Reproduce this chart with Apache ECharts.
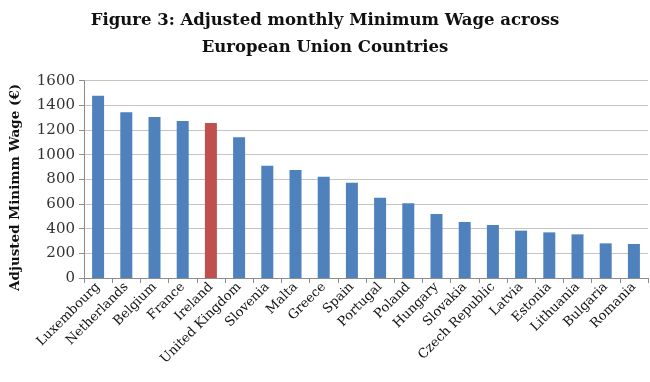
<!DOCTYPE html>
<html><head><meta charset="utf-8">
<script src="https://cdn.jsdelivr.net/npm/echarts@6/dist/echarts.min.js"></script>
<style>html,body{margin:0;padding:0;background:#fff}#c{width:650px;height:382px}</style>
</head><body><div id="c"></div>
<script>
const countries = ["Luxembourg","Netherlands","Belgium","France","Ireland","United Kingdom","Slovenia","Malta","Greece","Spain","Portugal","Poland","Hungary","Slovakia","Czech Republic","Latvia","Estonia","Lithuania","Bulgaria","Romania"];
const wages = [1478,1344,1306,1273,1257,1141,911,876,822,772,651,606,519,454,430,384,370,354,281,276];
const highlight = "Ireland";
const yTicks = [0,200,400,600,800,1000,1200,1400,1600];
const titleText = "Figure 3: Adjusted monthly Minimum Wage across\nEuropean Union Countries";
const yName = "Adjusted Minimm Wage (€)";

const serif = "'DejaVu Serif', serif";
const chart = echarts.init(document.getElementById('c'), null, {renderer:'canvas'});
chart.setOption({
  animation:false,
  title:{text:titleText,left:'center',top:2,
    textStyle:{fontFamily:serif,fontWeight:'bold',fontSize:16.5,color:'#111',lineHeight:27}},
  grid:{left:83,right:2,top:80.7,bottom:104},
  xAxis:{type:'category',data:countries,
    axisLine:{lineStyle:{color:'#8c8c8c'}},
    axisTick:{show:true,length:5,lineStyle:{color:'#8c8c8c'}},
    axisLabel:{interval:0,rotate:45,fontFamily:serif,fontSize:13,color:'#111',margin:7}},
  yAxis:{type:'value',min:yTicks[0],max:yTicks[yTicks.length-1],interval:200,
    name:yName,nameLocation:'middle',nameRotate:90,nameGap:62,
    nameTextStyle:{fontFamily:serif,fontWeight:'bold',fontSize:13.5,color:'#111',padding:[0,16,0,0]},
    axisLine:{show:true,lineStyle:{color:'#8c8c8c'}},
    axisTick:{show:true,length:5,lineStyle:{color:'#8c8c8c'}},
    axisLabel:{fontFamily:serif,fontSize:15,color:'#333',margin:9,formatter:v=>String(v)},
    splitLine:{lineStyle:{color:'#c4c4c4'}}},
  series:[{type:'bar',barWidth:12,
    data:countries.map((c,i)=>({value:wages[i],itemStyle:{color:c===highlight?'#C0504D':'#4F81BD'}}))}]
});
</script></body></html>
